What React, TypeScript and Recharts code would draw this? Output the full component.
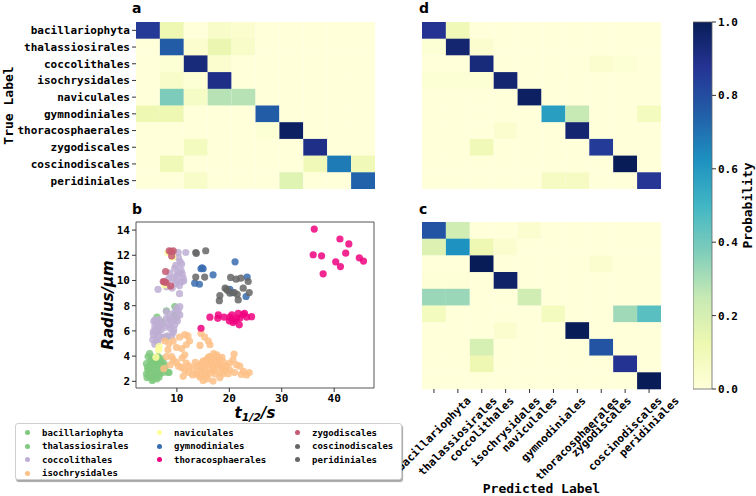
import React from 'react';
import {
  Bar,
  BarChart,
  Cell,
  Label,
  Legend,
  ReferenceArea,
  Scatter,
  ScatterChart,
  XAxis,
  YAxis,
} from 'recharts';

const MONO = '"DejaVu Sans Mono", monospace';
const SANS = '"DejaVu Sans", sans-serif';

const classes = [
  'bacillariophyta',
  'thalassiosirales',
  'coccolithales',
  'isochrysidales',
  'naviculales',
  'gymnodiniales',
  'thoracosphaerales',
  'zygodiscales',
  'coscinodiscales',
  'peridiniales',
];

// confusion matrices, rows = true label, cols = predicted label
const matrixA = [
  [0.86, 0.12, 0, 0.05, 0.03, 0, 0, 0, 0, 0],
  [0, 0.76, 0.03, 0.13, 0.05, 0, 0, 0, 0, 0],
  [0, 0.02, 0.93, 0.03, 0, 0, 0, 0, 0, 0],
  [0, 0.05, 0.02, 0.9, 0, 0, 0, 0, 0, 0],
  [0, 0.38, 0.06, 0.28, 0.28, 0, 0, 0, 0, 0],
  [0.12, 0.12, 0, 0, 0, 0.76, 0, 0, 0, 0],
  [0, 0, 0, 0, 0, 0.02, 0.98, 0, 0, 0],
  [0, 0, 0.08, 0, 0, 0, 0, 0.9, 0, 0],
  [0, 0.1, 0, 0, 0, 0, 0, 0.1, 0.68, 0.1],
  [0, 0, 0.05, 0, 0, 0, 0.17, 0, 0, 0.74],
];

const matrixD = [
  [0.88, 0.1, 0, 0, 0, 0, 0, 0, 0, 0],
  [0.02, 0.95, 0.03, 0, 0, 0, 0, 0, 0, 0],
  [0, 0, 0.93, 0, 0, 0, 0, 0.03, 0.02, 0],
  [0.02, 0.02, 0.02, 0.95, 0, 0, 0, 0, 0, 0],
  [0, 0, 0, 0, 0.98, 0, 0, 0, 0, 0],
  [0, 0, 0, 0, 0, 0.58, 0.25, 0, 0, 0.08],
  [0, 0, 0, 0.03, 0, 0, 0.95, 0, 0, 0],
  [0, 0, 0.1, 0, 0, 0, 0, 0.85, 0, 0],
  [0, 0, 0, 0, 0, 0, 0, 0, 1.0, 0],
  [0, 0, 0, 0, 0, 0.07, 0.07, 0, 0, 0.87],
];

const matrixC = [
  [0.78, 0.22, 0, 0, 0.03, 0, 0, 0, 0, 0],
  [0.18, 0.62, 0.12, 0.03, 0, 0, 0, 0, 0, 0],
  [0, 0, 1.0, 0, 0, 0, 0, 0.03, 0, 0],
  [0.01, 0.01, 0, 0.97, 0, 0, 0, 0, 0, 0],
  [0.33, 0.33, 0, 0, 0.22, 0, 0, 0, 0, 0],
  [0.08, 0, 0, 0, 0, 0.08, 0, 0, 0.32, 0.45],
  [0, 0, 0, 0.03, 0, 0, 1.0, 0, 0, 0],
  [0, 0, 0.2, 0, 0, 0, 0, 0.78, 0, 0],
  [0, 0, 0.12, 0, 0, 0, 0, 0, 0.88, 0],
  [0, 0, 0, 0, 0, 0, 0, 0, 0, 1.0],
];

const cellCenters = [0.5, 1.5, 2.5, 3.5, 4.5, 5.5, 6.5, 7.5, 8.5, 9.5];
const probTicks = [0, 0.2, 0.4, 0.6, 0.8, 1.0];

// YlGnBu
const ylgnbu = ['#ffffd9', '#edf8b1', '#c7e9b4', '#7fcdbb', '#41b6c4', '#1d91c0', '#225ea8', '#253494', '#081d58'];

const hex = (c: string) => [1, 3, 5].map((i) => parseInt(c.slice(i, i + 2), 16));
const colorOf = (v: number) => {
  const t = Math.max(0, Math.min(1, v)) * (ylgnbu.length - 1);
  const i = Math.min(Math.floor(t), ylgnbu.length - 2);
  const f = t - i;
  const a = hex(ylgnbu[i]);
  const b = hex(ylgnbu[i + 1]);
  const m = a.map((x, j) => Math.round(x + (b[j] - x) * f));
  return `rgb(${m[0]},${m[1]},${m[2]})`;
};

// scatter: t1/2 (s) vs radius (um)
const bacillariophyta = [
  [4.5, 3.96], [5.1, 3.7], [4.2, 3.4], [4.8, 3.2], [5.4, 3.3], [6.0, 3.6], [6.6, 3.7], [4.5, 2.9],
  [5.1, 2.7], [5.8, 2.8], [6.4, 3.0], [7.0, 3.2], [7.7, 2.93], [8.3, 2.72], [4.2, 2.6], [4.8, 2.34],
  [5.5, 2.2], [6.1, 2.5], [6.7, 2.6], [7.4, 2.7], [5.3, 2.07], [5.8, 3.2], [6.4, 3.96], [7.0, 3.4],
  [7.7, 3.3], [4.8, 4.2], [5.0, 3.0], [5.6, 3.5], [6.2, 2.2], [5.9, 2.55], [4.6, 2.5], [6.9, 2.9],
  [5.3, 3.9], [6.3, 3.3], [4.4, 3.1], [7.3, 3.6], [5.7, 2.35], [6.6, 2.35],
];
const thalassiosirales = [
  [8.0, 7.6], [9.6, 7.93], [9.6, 7.27], [7.2, 6.7], [8.0, 5.5], [9.9, 7.1], [6.2, 7.1], [5.0, 3.5],
  [8.5, 2.7], [4.3, 2.3], [6.9, 3.8],
];
const coccolithales = [
  [10.25, 12.22], [11.7, 12.22], [10.6, 11.5], [10.9, 11.3], [9.6, 10.98], [10.8, 10.8], [10.2, 10.6],
  [11.0, 10.55], [8.66, 10.58], [9.3, 10.2], [9.9, 10.0], [10.8, 9.9], [8.0, 9.5], [10.5, 9.6], [9.1, 9.4],
  [6.4, 9.3], [10.5, 8.95], [9.7, 9.75], [8.4, 10.1], [11.3, 9.95], [9.8, 11.2], [10.3, 11.8], [9.0, 12.3],
  [11.2, 10.2], [10.0, 10.4],
  [5.8, 6.87], [6.1, 6.74], [6.6, 6.9], [5.8, 6.34], [6.4, 6.2], [6.1, 5.82], [5.5, 5.7], [6.6, 5.55],
  [6.1, 5.3], [5.8, 4.95], [6.5, 5.95], [7.2, 6.6], [7.0, 6.1], [5.5, 5.95], [7.4, 5.5], [6.4, 6.55],
  [5.6, 6.74], [8.0, 7.53], [8.66, 7.1], [9.0, 6.7], [9.3, 7.4], [10.25, 7.53], [10.55, 7.92], [9.9, 7.0],
  [9.6, 6.5], [8.8, 6.2], [9.3, 5.9], [10.55, 7.27], [8.4, 6.5], [9.9, 7.8], [8.0, 7.0], [9.0, 5.6],
  [8.2, 5.6], [7.3, 5.45], [5.9, 6.1], [6.9, 6.4], [5.4, 5.3], [6.3, 5.1], [8.6, 6.9], [10.1, 6.8],
  [9.4, 6.1], [7.8, 6.3],
];
const isochrysidales = [
  [7.7, 5.2], [8.5, 5.0], [9.3, 5.2], [10.5, 5.5], [11.5, 5.7], [12.1, 5.6], [12.4, 5.2], [11.8, 4.9],
  [10.9, 4.6], [9.9, 4.7], [8.3, 4.5], [14.4, 4.85], [14.6, 5.8], [15.3, 5.5], [16.0, 5.2], [16.3, 4.9],
  [8.0, 3.96], [9.0, 3.96], [9.3, 3.7], [9.9, 3.5], [11.0, 3.85], [11.8, 3.45], [12.3, 3.2], [11.5, 2.9],
  [10.9, 3.1], [8.7, 3.3], [13.1, 3.0], [13.7, 2.6], [14.4, 2.34], [15.0, 2.07], [15.6, 3.7], [16.3, 3.96],
  [17.0, 4.2], [17.6, 4.1], [18.2, 3.7], [18.9, 3.5], [19.5, 3.2], [20.1, 2.9], [20.7, 3.7], [20.9, 4.15],
  [21.4, 3.3], [22.0, 3.2], [22.7, 2.8], [23.3, 2.5], [23.8, 2.7], [18.2, 2.3], [16.9, 2.02], [15.6, 2.4],
  [17.6, 3.2], [16.9, 3.1], [16.3, 2.9], [15.3, 3.2], [14.7, 3.45], [16.0, 3.35], [16.6, 3.45], [17.3, 3.6],
  [17.9, 3.35], [18.5, 3.1], [19.2, 2.85], [18.2, 2.7], [17.3, 2.6], [16.3, 2.65], [15.3, 2.8], [14.4, 2.9],
  [20.1, 3.45], [11.2, 2.4], [10.3, 3.2], [11.5, 4.1], [14.0, 3.2], [15.0, 3.6], [16.0, 3.9], [17.0, 2.85],
  [18.8, 2.6], [19.8, 2.6], [13.5, 3.5], [14.2, 2.5], [15.8, 2.2], [16.6, 3.75], [17.8, 3.9], [18.6, 3.9],
  [19.0, 3.15], [15.4, 2.5], [14.8, 3.05], [13.0, 2.5], [12.2, 2.7], [21.0, 2.7], [22.3, 2.55], [7.5, 3.0],
];
const naviculales = [[6.5, 4.49], [6.0, 3.9], [9.2, 11.85], [7.7, 9.65], [6.6, 4.75], [8.3, 12.2]];
const gymnodiniales = [
  [14.6, 10.93], [15.0, 10.93], [16.9, 10.45], [13.4, 9.79], [14.3, 9.7], [21.1, 11.48], [23.4, 10.27],
  [20.1, 9.3], [23.2, 8.73], [20.6, 9.04], [14.8, 11.0],
];
const thoracosphaerales = [
  [36.2, 14.08], [36.0, 12.04], [37.6, 11.96], [37.9, 10.53], [41.1, 13.29], [42.8, 12.9], [42.2, 12.17],
  [40.3, 11.48], [41.2, 11.1], [44.8, 11.8], [45.6, 11.54],
  [16.3, 7.09], [17.9, 7.27], [17.8, 7.0], [19.0, 7.1], [20.1, 7.09], [20.5, 7.27], [21.07, 6.8], [21.7, 7.4],
  [22.0, 7.0], [21.9, 6.48], [20.7, 6.66], [22.65, 7.3], [23.3, 7.1], [24.25, 7.13], [22.9, 7.4], [14.6, 6.21],
  [21.4, 7.0], [20.0, 6.8],
];
const zygodiscales = [
  [8.53, 12.36], [9.3, 12.36], [9.0, 11.94], [8.9, 12.3], [7.84, 10.71], [7.4, 9.92], [7.9, 9.84],
  [8.8, 9.57], [7.6, 9.9],
];
const coscinodiscales = [
  [13.6, 12.22], [13.7, 12.15], [15.5, 12.36], [13.6, 10.27], [15.3, 10.27], [20.25, 10.24], [21.3, 10.1],
  [22.2, 10.18], [23.6, 9.92],
];
const peridiniales = [
  [22.65, 9.39], [19.2, 9.39], [19.7, 9.2], [20.1, 9.0], [18.2, 8.8], [18.1, 8.4], [21.5, 8.9], [21.7, 8.46],
  [23.8, 9.04], [20.95, 9.04], [19.5, 9.3],
];

const seriesPoints = [
  bacillariophyta, thalassiosirales, coccolithales, isochrysidales, naviculales,
  gymnodiniales, thoracosphaerales, zygodiscales, coscinodiscales, peridiniales,
];
const seriesColors = [
  '#7fc97f', '#7fc97f', '#beaed4', '#fdc086', '#ffff99',
  '#386cb0', '#f0027f', '#c65a72', '#666666', '#666666',
];

const xDomain = [2.2, 47.6];
const yDomain = [1.47, 14.64];
const xTicks = [10, 20, 30, 40];
const yTicks = [2, 4, 6, 8, 10, 12, 14];

const rowsOf = () =>
  classes.map((name) => {
    const row: any = { name };
    classes.forEach((_, k) => (row[`c${k}`] = 1));
    return row;
  });

const tickStyle = { fontFamily: MONO, fontWeight: 700, fontSize: 11, fill: '#000' };

const RotatedTick = ({ x, y, payload }: any) => {
  const label = classes[Math.floor(payload.value)];
  const len = label.length * 0.602 * 11;
  const dy = ((len + 11) * 0.7071) / 2;
  return (
    <g transform={`translate(${x},${y + dy})`}>
      <text transform='rotate(-45)' textAnchor='middle' dominantBaseline='central' {...tickStyle}>
        {label}
      </text>
    </g>
  );
};

const Heatmap = ({ matrix, width, height, yWidth, xHeight, marginLeft, marginRight, showY, showX }: any) => {
  const rows = rowsOf();
  return (
    <BarChart
      width={width}
      height={height}
      data={rows}
      layout='vertical'
      barCategoryGap={0}
      barGap={0}
      margin={{ top: 0, right: marginRight || 0, bottom: 0, left: marginLeft || 0 }}
    >
      {showX ? (
        <XAxis
          type='number'
          domain={[0, 10]}
          ticks={cellCenters}
          interval={0}
          axisLine={false}
          tickLine={{ stroke: '#333' }}
          tickSize={4}
          tickMargin={2}
          height={xHeight}
          tick={<RotatedTick />}
        >
          <Label
            content={({ viewBox }: any) => (
              <text
                x={viewBox.x + viewBox.width / 2}
                y={viewBox.y + 99}
                textAnchor='middle'
                dominantBaseline='central'
                fontFamily={MONO}
                fontWeight={700}
                fontSize={13}
              >
                Predicted Label
              </text>
            )}
          />
        </XAxis>
      ) : (
        <XAxis type='number' domain={[0, 10]} hide />
      )}
      {showY ? (
        <YAxis
          type='category'
          dataKey='name'
          width={yWidth}
          interval={0}
          axisLine={false}
          tickLine={{ stroke: '#333' }}
          tickSize={4}
          tickMargin={2}
          tick={tickStyle}
        >
          <Label
            content={({ viewBox }: any) => (
              <text
                x={8}
                y={viewBox.y + viewBox.height / 2}
                transform={`rotate(-90, 8, ${viewBox.y + viewBox.height / 2})`}
                textAnchor='middle'
                dominantBaseline='central'
                fontFamily={MONO}
                fontWeight={700}
                fontSize={13}
              >
                True Label
              </text>
            )}
          />
        </YAxis>
      ) : (
        <YAxis type='category' dataKey='name' hide />
      )}
      {classes.map((_, k) => (
        <Bar key={k} dataKey={`c${k}`} stackId='m' isAnimationActive={false}>
          {rows.map((r, i) => (
            <Cell key={r.name} fill={colorOf(matrix[i][k])} />
          ))}
        </Bar>
      ))}
    </BarChart>
  );
};

const legendColumns = [4, 3, 3];

const renderLegend = ({ payload }: any) => {
  const items = [...(payload || [])].sort(
    (p: any, q: any) => classes.indexOf(p.value) - classes.indexOf(q.value),
  );
  const colX = [0, 132, 270];
  return (
    <div
      style={{
        position: 'relative',
        width: 385,
        height: 55,
        border: '1px solid #cfcfcf',
        borderRadius: 3,
        background: '#fff',
        boxShadow: '1px 2px 1px rgba(0,0,0,0.35)',
      }}
    >
      {items.map((it: any, i: number) => {
        let col = 0;
        let row = i;
        while (row >= legendColumns[col]) {
          row -= legendColumns[col];
          col += 1;
        }
        return (
          <div
            key={it.value}
            style={{
              position: 'absolute',
              left: colX[col] + 9,
              top: 2 + row * 13.5,
              height: 13,
              display: 'flex',
              alignItems: 'center',
              fontFamily: MONO,
              fontWeight: 700,
              fontSize: 9,
              color: '#000',
              whiteSpace: 'nowrap',
            }}
          >
            <span
              style={{
                display: 'inline-block',
                width: 5,
                height: 5,
                borderRadius: '50%',
                background: it.color,
                marginRight: 12,
              }}
            />
            {it.value}
          </div>
        );
      })}
    </div>
  );
};

const Dot = (p: any) => <circle cx={p.cx} cy={p.cy} r={3.6} fill={p.fill} fillOpacity={0.85} />;

const ScatterPanel = () => (
  <ScatterChart width={380} height={216} margin={{ top: 10, right: 6, bottom: 0, left: 0 }}>
    <XAxis
      type='number'
      dataKey='x'
      domain={xDomain}
      ticks={xTicks}
      allowDataOverflow
      height={40}
      axisLine={false}
      tickLine={{ stroke: '#333' }}
      tickSize={4}
      tickMargin={2}
      tick={tickStyle}
    >
      <Label
        content={({ viewBox }: any) => (
          <text
            x={viewBox.x + viewBox.width / 2}
            y={viewBox.y + 25}
            textAnchor='middle'
            dominantBaseline='central'
            fontFamily={SANS}
            fontWeight={700}
            fontStyle='italic'
            fontSize={15}
          >
            <tspan>t</tspan>
            <tspan fontSize={11} dy={4}>
              1/2
            </tspan>
            <tspan dy={-4}>/s</tspan>
          </text>
        )}
      />
    </XAxis>
    <YAxis
      type='number'
      dataKey='y'
      domain={yDomain}
      ticks={yTicks}
      allowDataOverflow
      width={136}
      axisLine={false}
      tickLine={{ stroke: '#333' }}
      tickSize={4}
      tickMargin={2}
      tick={tickStyle}
    >
      <Label
        content={({ viewBox }: any) => {
          const cy = viewBox.y + viewBox.height / 2;
          return (
            <text
              x={108}
              y={cy}
              transform={`rotate(-90, 108, ${cy})`}
              textAnchor='middle'
              dominantBaseline='central'
              fontFamily={SANS}
              fontWeight={700}
              fontStyle='italic'
              fontSize={15}
            >
              Radius/μm
            </text>
          );
        }}
      />
    </YAxis>
    {seriesPoints.map((pts, i) => (
      <Scatter
        key={classes[i]}
        name={classes[i]}
        data={pts.map(([x, y]) => ({ x, y }))}
        fill={seriesColors[i]}
        shape={Dot}
        isAnimationActive={false}
      />
    ))}
    <ReferenceArea
      x1={xDomain[0]}
      x2={xDomain[1]}
      y1={yDomain[0]}
      y2={yDomain[1]}
      fill='none'
      stroke='#555'
      strokeWidth={1}
      ifOverflow='visible'
    />
    <Legend
      layout='horizontal'
      verticalAlign='middle'
      align='center'
      content={renderLegend}
      wrapperStyle={{ left: 15, top: 211, width: 387, height: 57 }}
    />
  </ScatterChart>
);

const ColorBar = () => (
  <BarChart
    width={63}
    height={387}
    data={[{ name: 'p', v: 1 }]}
    barCategoryGap={0}
    margin={{ top: 10, right: 0, bottom: 10, left: 0 }}
  >
    <defs>
      <linearGradient id='cbar' x1='0' y1='1' x2='0' y2='0'>
        {ylgnbu.map((c, i) => (
          <stop key={c} offset={i / (ylgnbu.length - 1)} stopColor={c} />
        ))}
      </linearGradient>
    </defs>
    <XAxis dataKey='name' hide />
    <YAxis
      orientation='right'
      type='number'
      domain={[0, 1]}
      ticks={probTicks}
      width={44}
      axisLine={false}
      tickLine={{ stroke: '#333' }}
      tickSize={4}
      tickMargin={2}
      tick={tickStyle}
      tickFormatter={(v: number) => v.toFixed(1)}
    >
      <Label
        content={({ viewBox }: any) => {
          const cx = viewBox.x + 35;
          const cy = viewBox.y + viewBox.height / 2;
          return (
            <text
              x={cx}
              y={cy}
              transform={`rotate(-90, ${cx}, ${cy})`}
              textAnchor='middle'
              dominantBaseline='central'
              fontFamily={MONO}
              fontWeight={700}
              fontSize={13}
            >
              Probability
            </text>
          );
        }}
      />
    </YAxis>
    <Bar dataKey='v' fill='url(#cbar)' stroke='#666' strokeWidth={0.8} isAnimationActive={false} />
  </BarChart>
);

const letter = (t: string, left: number, top: number) => (
  <div
    style={{
      position: 'absolute',
      left,
      top,
      fontFamily: SANS,
      fontWeight: 700,
      fontSize: 14,
      lineHeight: '14px',
    }}
  >
    {t}
  </div>
);

const App = () => (
  <div style={{ position: 'absolute', left: 0, top: 0, width: 756, height: 496, background: '#fff', overflow: 'hidden' }}>
    <div style={{ position: 'absolute', left: 0, top: 22 }}>
      <Heatmap matrix={matrixA} width={375} height={167} yWidth={136} showY />
    </div>
    <div style={{ position: 'absolute', left: 422, top: 22 }}>
      <Heatmap matrix={matrixD} width={239} height={167} />
    </div>
    <div style={{ position: 'absolute', left: 380, top: 222 }}>
      <Heatmap matrix={matrixC} width={312} height={274} xHeight={107} marginLeft={42} marginRight={31} showX />
    </div>
    <div style={{ position: 'absolute', left: 0, top: 212 }}>
      <ScatterPanel />
    </div>
    <div style={{ position: 'absolute', left: 693, top: 12 }}>
      <ColorBar />
    </div>
    {letter('a', 132, 1)}
    {letter('d', 419, 1)}
    {letter('b', 132, 202)}
    {letter('c', 419, 202)}
  </div>
);

export default App;
